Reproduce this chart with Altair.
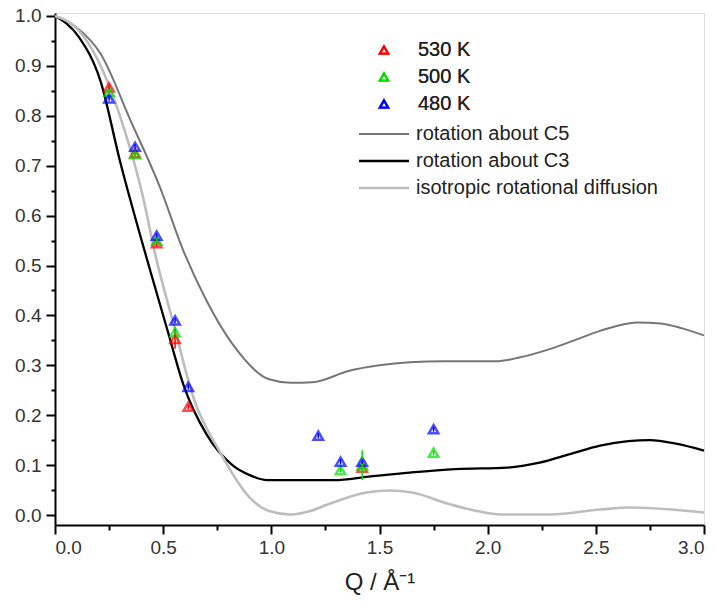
import altair as alt
import pandas as pd

# ---- model curves ----
c5_q = [0.0, 0.1, 0.21, 0.35, 0.485, 0.593, 0.70, 0.82, 0.99, 1.09, 1.19, 1.36, 1.5, 1.64, 1.8, 2.04, 2.15, 2.29, 2.4, 2.52, 2.69, 2.8, 2.9, 3.0]
c5_v = [1.0, 0.977, 0.925, 0.79, 0.657, 0.53, 0.43, 0.343, 0.272, 0.265, 0.266, 0.289, 0.30, 0.306, 0.308, 0.308, 0.316, 0.333, 0.35, 0.369, 0.386, 0.384, 0.374, 0.36]

c3_q = [0.0, 0.11, 0.21, 0.30, 0.44, 0.52, 0.593, 0.70, 0.82, 0.9, 0.98, 1.29, 1.45, 1.64, 1.85, 2.09, 2.24, 2.38, 2.52, 2.65, 2.75, 2.87, 3.0]
c3_v = [1.0, 0.958, 0.87, 0.71, 0.49, 0.37, 0.262, 0.162, 0.10, 0.08, 0.07, 0.07, 0.077, 0.085, 0.092, 0.095, 0.105, 0.122, 0.139, 0.148, 0.15, 0.143, 0.129]

iso_q = [0.0, 0.1, 0.2, 0.3, 0.4, 0.47, 0.55, 0.64, 0.76, 0.9, 0.99, 1.09, 1.18, 1.26, 1.44, 1.55, 1.65, 1.83, 1.95, 2.06, 2.29, 2.52, 2.66, 2.85, 3.0]
iso_v = [1.0, 0.975, 0.91, 0.80, 0.65, 0.51, 0.38, 0.235, 0.128, 0.035, 0.008, 0.001, 0.008, 0.021, 0.045, 0.049, 0.045, 0.021, 0.008, 0.001, 0.001, 0.011, 0.015, 0.011, 0.005]

# ---- measured points ----
t530_q = [0.25, 0.37, 0.47, 0.555, 0.616, 1.42]
t530_v = [0.857, 0.725, 0.545, 0.353, 0.217, 0.095]
t530_e = [0.005, 0.005, 0.008, 0.02, 0.005, 0.005]

t500_q = [0.25, 0.37, 0.47, 0.555, 1.32, 1.42, 1.75]
t500_v = [0.848, 0.723, 0.55, 0.366, 0.09, 0.10, 0.125]
t500_e = [0.005, 0.005, 0.005, 0.005, 0.005, 0.03, 0.005]

t480_q = [0.25, 0.37, 0.47, 0.555, 0.616, 1.217, 1.32, 1.42, 1.75]
t480_v = [0.835, 0.738, 0.56, 0.39, 0.257, 0.159, 0.107, 0.107, 0.172]
t480_e = [0.005, 0.005, 0.005, 0.005, 0.005, 0.005, 0.005, 0.005, 0.005]

model_names = ["rotation about C5", "rotation about C3", "isotropic rotational diffusion"]
model_colors = ["#767676", "#000000", "#bdbdbd"]
model_widths = [2, 2.6, 2]
temp_names = ["530 K", "500 K", "480 K"]
temp_colors = ["#ff0000", "#00e000", "#0000ff"]

x_major = [0.0, 0.5, 1.0, 1.5, 2.0, 2.5, 3.0]
x_minor = [0.25, 0.75, 1.25, 1.75, 2.25, 2.75]
y_major = [round(i * 0.1, 1) for i in range(11)]
y_minor = [round(0.05 + i * 0.1, 2) for i in range(10)]

curves = pd.concat([
    pd.DataFrame({"Q": c5_q, "value": c5_v, "model": model_names[0]}),
    pd.DataFrame({"Q": c3_q, "value": c3_v, "model": model_names[1]}),
    pd.DataFrame({"Q": iso_q, "value": iso_v, "model": model_names[2]}),
])
pts = pd.concat([
    pd.DataFrame({"Q": t530_q, "value": t530_v, "err": t530_e, "T": temp_names[0]}),
    pd.DataFrame({"Q": t500_q, "value": t500_v, "err": t500_e, "T": temp_names[1]}),
    pd.DataFrame({"Q": t480_q, "value": t480_v, "err": t480_e, "T": temp_names[2]}),
])
pts["lo"] = pts["value"] - pts["err"]
pts["hi"] = pts["value"] + pts["err"]

FONT = "Liberation Sans"
xs = alt.Scale(domain=[0, 3.0], nice=False, zero=False)
ys = alt.Scale(domain=[-0.02, 1.006], nice=False, zero=False)

minor = alt.Chart(curves).mark_point(opacity=0).encode(
    x=alt.X("Q:Q", scale=xs, axis=alt.Axis(orient="bottom", values=x_minor, labels=False, domain=False,
                                          grid=False, tickSize=5, tickWidth=2, tickColor="black", title=None)),
    y=alt.Y("value:Q", scale=ys, axis=alt.Axis(orient="left", values=y_minor, labels=False, domain=False,
                                              grid=False, tickSize=4, tickWidth=2, tickColor="black", title=None)),
)

lines = alt.Chart(curves).mark_line(interpolate="monotone").encode(
    x=alt.X("Q:Q", scale=xs, axis=alt.Axis(orient="bottom", values=x_major, format=".1f", grid=False,
                                          tickSize=9, tickWidth=2, tickColor="black", domainWidth=2,
                                          domainColor="black", labelFontSize=19, labelColor="#333333",
                                          labelFont=FONT, labelPadding=4, title="Q / Å⁻¹",
                                          titleFont=FONT, titleFontSize=24, titleFontWeight="normal",
                                          titleColor="#222222", titlePadding=13)),
    y=alt.Y("value:Q", scale=ys, axis=alt.Axis(orient="left", values=y_major, format=".1f", grid=False,
                                              tickSize=9, tickWidth=2, tickColor="black", domainWidth=2,
                                              domainColor="black", labelFontSize=19, labelColor="#333333",
                                              labelFont=FONT, labelPadding=5, title=None)),
    color=alt.Color("model:N", scale=alt.Scale(domain=model_names, range=model_colors),
                    legend=alt.Legend(orient="none", legendX=319, legendY=111, title=None,
                                      symbolType="M-5,0H5", symbolSize=100, symbolStrokeWidth=2.2,
                                      labelFont=FONT, labelFontSize=20, labelColor="#222222",
                                      labelLimit=0, labelOffset=22, rowPadding=7)),
    strokeWidth=alt.StrokeWidth("model:N", scale=alt.Scale(domain=model_names, range=model_widths), legend=None),
    detail="model:N",
)

temp_legend = alt.Legend(orient="none", legendX=319, legendY=27, title=None,
                         symbolType="triangle-up", symbolSize=70, symbolStrokeWidth=2.2,
                         symbolFillColor="transparent",
                         labelFont=FONT, labelFontSize=20, labelColor="#222222",
                         labelLimit=0, labelOffset=24, rowPadding=7)
temp_scale = alt.Scale(domain=temp_names, range=temp_colors)

errs = alt.Chart(pts).mark_rule(strokeWidth=1.5).encode(
    x=alt.X("Q:Q", scale=xs, axis=None),
    y=alt.Y("lo:Q", scale=ys, axis=None),
    y2="hi:Q",
    color=alt.Color("T:N", scale=temp_scale, legend=temp_legend),
)

points = alt.Chart(pts).mark_point(shape="triangle-up", filled=False, size=90, strokeWidth=2.5).encode(
    x=alt.X("Q:Q", scale=xs, axis=None),
    y=alt.Y("value:Q", scale=ys, axis=None),
    color=alt.Color("T:N", scale=temp_scale, legend=temp_legend),
)

chart = alt.layer(minor, lines, points, errs).resolve_scale(
    color="independent", strokeWidth="independent"
).resolve_axis(x="independent", y="independent").properties(
    width=649, height=512,
    autosize=alt.AutoSizeParams(type="none"),
    padding={"left": 55, "top": 13, "right": 13, "bottom": 82},
).configure_view(stroke="black", strokeWidth=2).configure(background="white")

chart.save("out.html", embed_options={"renderer": "svg", "actions": False})
